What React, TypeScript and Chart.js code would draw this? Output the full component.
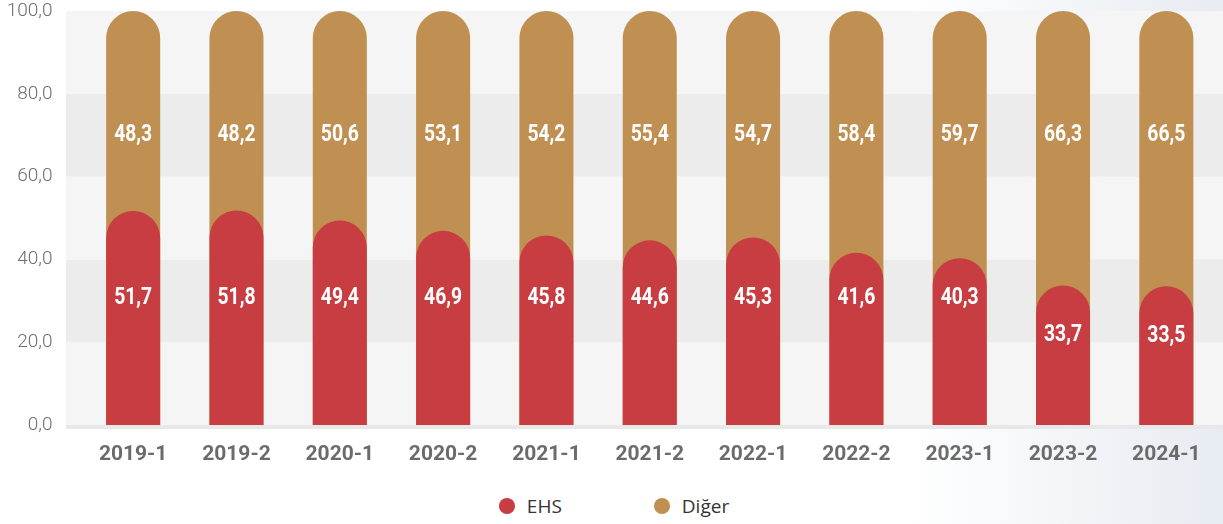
import React, { useEffect, useRef } from "react";
import { Chart, registerables } from "chart.js";

Chart.register(...registerables);

const categories = ["2019-1", "2019-2", "2020-1", "2020-2", "2021-1", "2021-2", "2022-1", "2022-2", "2023-1", "2023-2", "2024-1"];
const ehs = [51.7, 51.8, 49.4, 46.9, 45.8, 44.6, 45.3, 41.6, 40.3, 33.7, 33.5];
const diger = [48.3, 48.2, 50.6, 53.1, 54.2, 55.4, 54.7, 58.4, 59.7, 66.3, 66.5];
const seriesNames = ["EHS", "Diğer"];
const yTicks = [0, 20, 40, 60, 80, 100];

const RED = "#c83d41";
const TAN = "#c08f52";

const fmt = (v: number) => v.toFixed(1).replace(".", ",");

const bandsPlugin = {
  id: "bands",
  beforeDraw(chart: any) {
    const { ctx, chartArea, scales } = chart;
    const y = scales.y;
    const left = chartArea.left - 15.5;
    const right = chart.width;
    ctx.save();
    for (let i = 0; i < yTicks.length - 1; i++) {
      const y0 = y.getPixelForValue(yTicks[i]);
      const y1 = y.getPixelForValue(yTicks[i + 1]);
      ctx.fillStyle = i % 2 === 0 ? "#f5f5f5" : "#ececec";
      ctx.fillRect(left, y1, right - left, y0 - y1);
    }
    const yb = y.getPixelForValue(0);
    ctx.fillStyle = "#e8e8e8";
    ctx.fillRect(left, yb, right - left, 4);
    ctx.restore();
  },
};

const labelsPlugin = {
  id: "valueLabels",
  afterDatasetsDraw(chart: any) {
    const { ctx, scales } = chart;
    const y = scales.y;
    const meta = chart.getDatasetMeta(0);
    ctx.save();
    ctx.fillStyle = "#ffffff";
    ctx.font = 'bold 23px Roboto, "DejaVu Sans Condensed", sans-serif';
    ctx.textAlign = "center";
    ctx.textBaseline = "middle";
    const sx = 0.84;
    meta.data.forEach((bar: any, i: number) => {
      const x = bar.x;
      const ePos = ehs[i] >= 38 ? 30.5 : ehs[i] - 12;
      const yE = y.getPixelForValue(ePos);
      const yD = y.getPixelForValue(70);
      ctx.save();
      ctx.translate(x, 0);
      ctx.scale(sx, 1);
      ctx.fillText(fmt(ehs[i]), 0, yE);
      ctx.fillText(fmt(diger[i]), 0, yD);
      ctx.restore();
    });
    ctx.restore();
  },
};

export default function App() {
  const canvasRef = useRef<HTMLCanvasElement | null>(null);

  useEffect(() => {
    if (!canvasRef.current) return;
    const totals = ehs.map((v, i) => v + diger[i]);
    const chart = new Chart(canvasRef.current, {
      type: "bar",
      data: {
        labels: categories,
        datasets: [
          {
            label: seriesNames[0],
            data: ehs,
            backgroundColor: RED,
            borderRadius: 27,
            borderSkipped: "start",
            grouped: false,
            barPercentage: 0.523,
            categoryPercentage: 1,
            order: 0,
          } as any,
          {
            label: seriesNames[1],
            data: totals,
            backgroundColor: TAN,
            borderRadius: 27,
            borderSkipped: "start",
            grouped: false,
            barPercentage: 0.523,
            categoryPercentage: 1,
            order: 1,
          } as any,
        ],
      },
      options: {
        animation: false,
        responsive: true,
        maintainAspectRatio: false,
        layout: { padding: { top: 11, right: 5, left: 0, bottom: 0 } },
        plugins: {
          legend: { display: false },
          tooltip: { enabled: false },
        },
        scales: {
          x: {
            grid: { display: false, drawTicks: false },
            border: { display: false },
            ticks: {
              color: "#6b6b6b",
              padding: 17,
              font: { family: "Roboto", size: 21, weight: "bold" },
            },
            afterFit: (s: any) => {
              s.height = 55;
            },
          },
          y: {
            min: 0,
            max: 100,
            grid: { display: false, drawTicks: false },
            border: { display: false },
            ticks: {
              stepSize: 20,
              padding: 29,
              color: "#6e6e6e",
              font: { family: "Roboto", size: 19, weight: "300" },
              callback: (v: any) => fmt(Number(v)),
            },
            afterFit: (s: any) => {
              s.width = 81.5;
              s.paddingTop = 0;
              s.paddingBottom = 0;
            },
          },
        },
      },
      plugins: [bandsPlugin, labelsPlugin],
    });
    return () => chart.destroy();
  }, []);

  const legendItem = (name: string, color: string) => (
    <div style={{ display: "flex", alignItems: "center" }}>
      <span
        style={{
          display: "inline-block",
          width: 16,
          height: 16,
          borderRadius: "50%",
          background: color,
          marginRight: 12,
        }}
      />
      <span style={{ fontFamily: '"Open Sans", "Noto Sans", sans-serif', fontSize: 19, color: "#333" }}>{name}</span>
    </div>
  );

  return (
    <div
      style={{
        position: "absolute",
        left: 0,
        top: 0,
        width: 1223,
        height: 524,
        background: "linear-gradient(90deg, #ffffff 0%, #ffffff 74%, #e7ecf2 100%)",
        overflow: "hidden",
      }}
    >
      <div style={{ position: "relative", width: 1223, height: 480 }}>
        <canvas ref={canvasRef} />
      </div>
      <div
        style={{
          position: "absolute",
          top: 493,
          left: 0,
          width: 1223,
          display: "flex",
          justifyContent: "center",
          gap: 92,
          paddingLeft: 5,
          boxSizing: "border-box",
        }}
      >
        {legendItem(seriesNames[0], RED)}
        {legendItem(seriesNames[1], TAN)}
      </div>
    </div>
  );
}
